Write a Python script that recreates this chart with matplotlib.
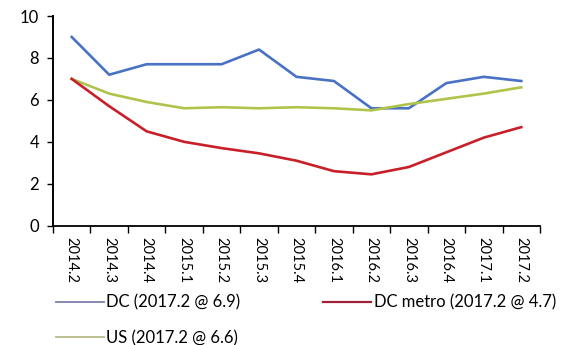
import matplotlib
matplotlib.use("Agg")
import matplotlib.pyplot as plt
from matplotlib.lines import Line2D

plt.rcParams["font.family"] = ["Lato", "DejaVu Sans"]

quarters = ["2014.2", "2014.3", "2014.4", "2015.1", "2015.2", "2015.3", "2015.4",
            "2016.1", "2016.2", "2016.3", "2016.4", "2017.1", "2017.2"]
dc = [9.0, 7.2, 7.7, 7.7, 7.7, 8.4, 7.1, 6.9, 5.6, 5.6, 6.8, 7.1, 6.9]
dc_metro = [7.0, 5.7, 4.5, 4.0, 3.7, 3.45, 3.1, 2.6, 2.45, 2.8, 3.5, 4.2, 4.7]
us = [7.0, 6.3, 5.9, 5.6, 5.65, 5.6, 5.65, 5.6, 5.5, 5.8, 6.05, 6.3, 6.6]

BLUE = "#4A72C4"
RED = "#C8202A"
GREEN = "#B0C44C"

fig = plt.figure(figsize=(5.68, 3.45), dpi=100)
ax = fig.add_axes([0.0933, 0.3458, 0.8574, 0.6078])

x = range(len(quarters))
ax.plot(x, dc, color=BLUE, lw=1.9, solid_joinstyle="round", zorder=3)
ax.plot(x, us, color=GREEN, lw=1.9, solid_joinstyle="round", zorder=3)
ax.plot(x, dc_metro, color=RED, lw=1.9, solid_joinstyle="round", zorder=4)

ax.set_xlim(-0.5, len(quarters) - 0.5)
ax.set_ylim(0, 10)
ax.set_yticks([0, 2, 4, 6, 8, 10])
ax.tick_params(axis="y", direction="out", length=4, width=1, labelsize=12, pad=6)

# category ticks sit on the boundaries, labels at the centres
ax.set_xticks([i - 0.5 for i in range(len(quarters) + 1)])
ax.set_xticklabels([])
ax.set_xticks(list(x), minor=True)
ax.set_xticklabels(quarters, minor=True, rotation=270, fontsize=10.5)
ax.tick_params(axis="x", which="major", direction="out", length=5, width=1)
ax.tick_params(axis="x", which="minor", length=0, pad=8)

for side in ("top", "right"):
    ax.spines[side].set_visible(False)
ax.spines["left"].set_linestyle((0, (1.2, 1.0)))
ax.spines["left"].set_linewidth(1.4)
ax.spines["bottom"].set_linewidth(1.3)

handles = [
    Line2D([], [], color="#7A80B0", lw=1.3, label="DC (2017.2 @ 6.9)"),
    Line2D([], [], color="#B8BC88", lw=1.3, label="US (2017.2 @ 6.6)"),
    Line2D([], [], color="#A02038", lw=1.6, label="DC metro (2017.2 @ 4.7)"),
]
fig.legend(handles=handles, ncol=2, loc="upper left", bbox_to_anchor=(0.098, 0.146),
           frameon=False, fontsize=12, handlelength=2.9, handletextpad=0.15,
           columnspacing=4.95, labelspacing=1.15, borderaxespad=0, borderpad=0)

fig.savefig("out.png", dpi=100)
